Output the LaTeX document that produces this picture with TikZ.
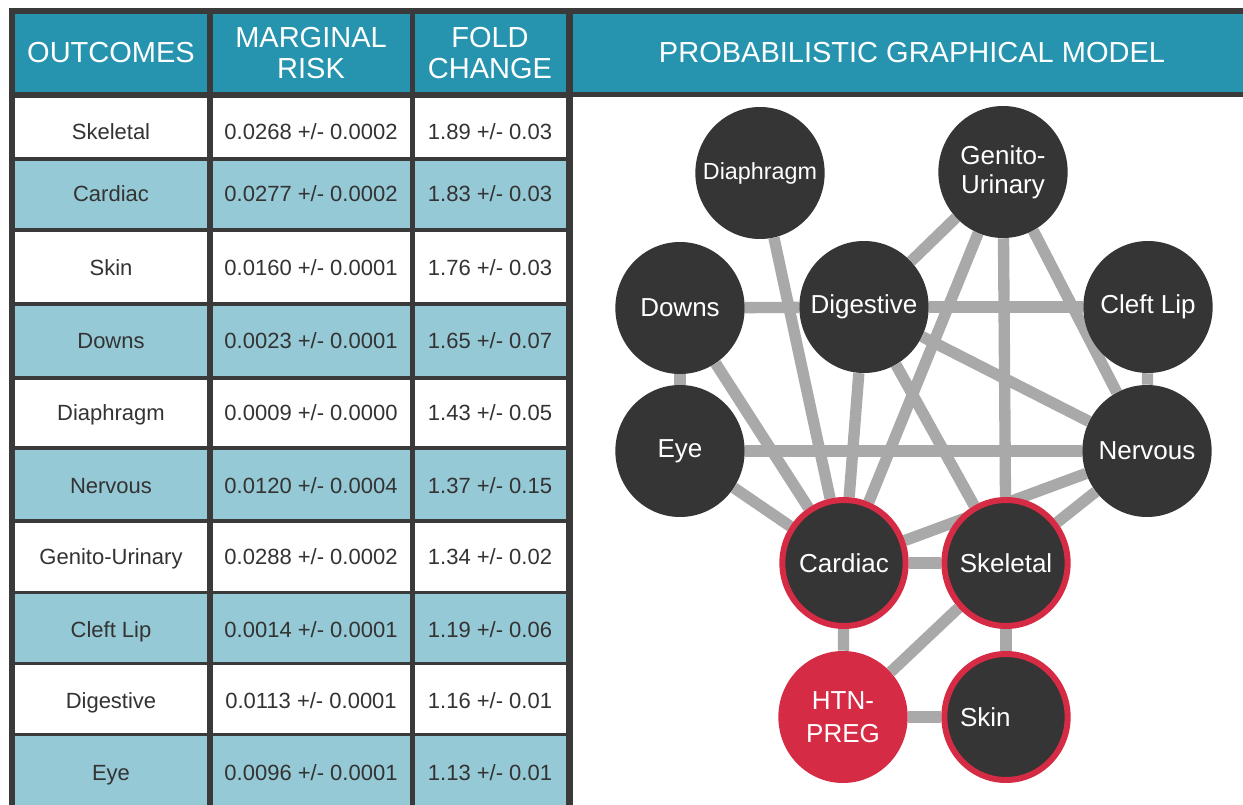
\documentclass[tikz,border=0pt]{standalone}
\usepackage{fontspec}
\setmainfont{Liberation Sans}
\usetikzlibrary{shapes.geometric,backgrounds}
\definecolor{frame}{HTML}{3A3A3A}
\definecolor{headteal}{HTML}{2794AF}
\definecolor{rowteal}{HTML}{95C9D5}
\definecolor{cellink}{HTML}{333333}
\definecolor{nodegrey}{HTML}{353535}
\definecolor{edgegrey}{HTML}{A9A9A9}
\definecolor{ringred}{HTML}{D62B45}

\begin{document}
\begin{tikzpicture}[x=0.75pt,y=-0.75pt,
    headtext/.style={text=white,align=center,inner sep=0pt,
                     font=\fontsize{21.75}{23.25}\selectfont},
    celltext/.style={text=cellink,inner sep=0pt,text height=11.8pt,text depth=0pt,
                     font=\fontsize{16.5}{18}\selectfont},
    organ/.style={ellipse,fill=nodegrey,minimum width=97pt,minimum height=99pt,
                  inner xsep=-20pt,inner ysep=-10pt,text=white,align=center,
                  font=\fontsize{19.5}{22}\selectfont},
    ringed/.style={organ,draw=ringred,line width=4.5pt,
                   minimum width=92.5pt,minimum height=94.5pt},
    conn/.style={draw=edgegrey,line width=8.5pt}]
  \useasboundingbox (0,0) rectangle (1243,805);
  \begin{scope}[on background layer]
    \fill[white] (0,0) rectangle (1243,805);
  \end{scope}

  % table frame and header
  \fill[frame] (9,8) rectangle (573,805);
  \fill[frame] (573,8) rectangle (1243,97);
  \fill[headteal] (15,14) rectangle (207,92);
  \fill[headteal] (213,14) rectangle (410,92);
  \fill[headteal] (415,14) rectangle (566,92);
  \fill[headteal] (573,14) rectangle (1243,92);
  \node[headtext] (hOutcome) at (111,53) {OUTCOMES};
  \node[headtext] (hRisk) at (311,53) {MARGINAL\\RISK};
  \node[headtext] (hFold) at (490,53) {FOLD\\CHANGE};
  \node[headtext] (hModel) at (912,53) {PROBABILISTIC GRAPHICAL MODEL};

  % rows
  \foreach \ya/\yb/\yt/\shade/\organ/\ra/\rb/\fa/\fb [count=\i] in {
      98/157/132/white/Skeletal/0.0268/0.0002/1.89/0.03,
      161/228/194/rowteal/Cardiac/0.0277/0.0002/1.83/0.03,
      232/302/268/white/Skin/0.0160/0.0001/1.76/0.03,
      306/376/341/rowteal/Downs/0.0023/0.0001/1.65/0.07,
      380/446/413/white/Diaphragm/0.0009/0.0000/1.43/0.05,
      450/519/486/rowteal/Nervous/0.0120/0.0004/1.37/0.15,
      523/591/557/white/Genito-Urinary/0.0288/0.0002/1.34/0.02,
      594/662/630/rowteal/Cleft Lip/0.0014/0.0001/1.19/0.06,
      665/733/701/white/Digestive/0.0113/0.0001/1.16/0.01,
      736/810/773/rowteal/Eye/0.0096/0.0001/1.13/0.01} {
    \fill[\shade] (15,\ya) rectangle (207,\yb);
    \fill[\shade] (213,\ya) rectangle (410,\yb);
    \fill[\shade] (415,\ya) rectangle (566,\yb);
    \node[celltext] (out\i) at (111,\yt) {\organ};
    \node[celltext] (risk\i) at (311,\yt) {\ra{} +/- \rb};
    \node[celltext] (fold\i) at (490,\yt) {\fa{} +/- \fb};
  }

  % graphical model
  \node[organ,font=\fontsize{17.5}{20}\selectfont] (diaph) at (760,173) {Diaphragm};
  \node[organ] (genito) at (1003,172) {Genito-\\Urinary};
  \node[organ] (downs) at (680,308) {Downs};
  \node[organ] (digest) at (864,307) {Digestive};
  \node[organ] (cleft) at (1148,307) {Cleft Lip};
  \node[organ] (eye) at (680,451) {Eye};
  \node[organ] (nerv) at (1147,451) {Nervous};
  \node[ringed] (card) at (844,563) {Cardiac};
  \node[ringed] (skel) at (1006,563) {Skeletal};
  \node[organ,fill=ringred,font=\fontsize{19.5}{24.5}\selectfont] (htn) at (843,717) {HTN-\\PREG};
  \node[ringed] (skin) at (1006,717) {Skin\hspace{31pt}};

  \begin{scope}[on background layer]
    \draw[conn] (diaph) -- (card);
    \draw[conn] (genito) -- (digest);
    \draw[conn] (genito) -- (card);
    \draw[conn] (genito) -- (skel);
    \draw[conn] (genito) -- (nerv);
    \draw[conn] (downs) -- (digest);
    \draw[conn] (digest) -- (cleft);
    \draw[conn] (downs) -- (eye);
    \draw[conn] (downs) -- (card);
    \draw[conn] (digest) -- (card);
    \draw[conn] (digest) -- (skel);
    \draw[conn] (digest) -- (nerv);
    \draw[conn] (eye) -- (nerv);
    \draw[conn] (eye) -- (card);
    \draw[conn] (card) -- (nerv);
    \draw[conn] (skel) -- (nerv);
    \draw[conn] (cleft) -- (nerv);
    \draw[conn] (card) -- (skel);
    \draw[conn] (card) -- (htn);
    \draw[conn] (skel) -- (htn);
    \draw[conn] (skel) -- (skin);
    \draw[conn] (htn) -- (skin);
  \end{scope}
\end{tikzpicture}
\end{document}
